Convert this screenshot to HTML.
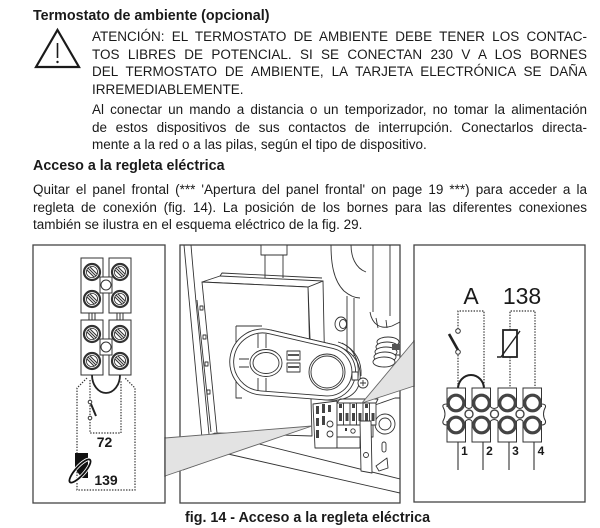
<!DOCTYPE html>
<html><head><meta charset="utf-8">
<style>
html,body{margin:0;padding:0;background:#fff;}
body{width:600px;height:528px;position:relative;overflow:hidden;font-family:"Liberation Sans",Arial,sans-serif;color:#1a1a1a;}
.l{position:absolute;white-space:nowrap;line-height:16px;font-size:13.5px;}
.j{position:absolute;left:92px;width:495px;line-height:16px;height:16px;font-size:13.5px;text-align:justify;text-align-last:justify;}
.jw{left:33px;width:554px;}
.b{font-weight:bold;font-size:14.3px;}
svg{position:absolute;left:0;top:0;}
</style></head><body>

<div class="l b" style="left:33px;top:8px;">Termostato de ambiente (opcional)</div>

<div class="j" style="top:29px;">ATENCIÓN: EL TERMOSTATO DE AMBIENTE DEBE TENER LOS CONTAC-</div>
<div class="j" style="top:46.5px;">TOS LIBRES DE POTENCIAL. SI SE CONECTAN 230 V A LOS BORNES</div>
<div class="j" style="top:64px;">DEL TERMOSTATO DE AMBIENTE, LA TARJETA ELECTRÓNICA SE DAÑA</div>
<div class="l" style="left:92px;top:81.5px;">IRREMEDIABLEMENTE.</div>

<div class="j" style="top:102px;">Al conectar un mando a distancia o un temporizador, no tomar la alimentación</div>
<div class="j" style="top:119.5px;">de estos dispositivos de sus contactos de interrupción. Conectarlos directa-</div>
<div class="l" style="left:92px;top:137px;">mente a la red o a las pilas, según el tipo de dispositivo.</div>

<div class="l b" style="left:33px;top:158px;">Acceso a la regleta eléctrica</div>

<div class="j jw" style="top:182px;">Quitar el panel frontal (*** 'Apertura del panel frontal' on page 19 ***) para acceder a la</div>
<div class="j jw" style="top:199.5px;">regleta de conexión (fig. 14). La posición de los bornes para las diferentes conexiones</div>
<div class="l" style="left:33px;top:217px;">también se ilustra en el esquema eléctrico de la fig. 29.</div>

<div class="l b" style="left:185px;top:510px;">fig. 14 - Acceso a la regleta eléctrica</div>

<svg width="600" height="528" viewBox="0 0 600 528" xmlns="http://www.w3.org/2000/svg">
<defs>
  <clipPath id="mc"><rect x="180" y="245" width="220" height="258"/></clipPath>
  <g id="scr">
    <circle r="8" fill="#fff" stroke="#333" stroke-width="2.2"/>
    <circle r="5.6" fill="#fff" stroke="#333" stroke-width="0.8"/>
    <g stroke="#333" stroke-width="1.1" transform="rotate(90)">
      <line x1="3.75" y1="-3.75" x2="-3.75" y2="3.75"/>
      <line x1="4.9" y1="-1.9" x2="-1.9" y2="4.9"/>
      <line x1="1.9" y1="-4.9" x2="-4.9" y2="1.9"/>
    </g>
  </g>
  <g id="rc">
    <circle r="7.8" fill="#fff" stroke="#444" stroke-width="3.2"/>
  </g>
</defs>

<!-- warning triangle -->
<polygon points="57.5,30 79,67 36,67" fill="none" stroke="#1a1a1a" stroke-width="2.2" stroke-linejoin="miter"/>
<line x1="57.5" y1="43" x2="57.5" y2="58" stroke="#1a1a1a" stroke-width="1.6"/>
<circle cx="57.5" cy="62" r="1.2" fill="#1a1a1a"/>

<!-- frames -->
<g fill="none" stroke="#444" stroke-width="1.3">
  <rect x="33" y="245" width="132" height="258"/>
  <rect x="180" y="245" width="220" height="258"/>
  <rect x="414" y="245" width="171" height="257"/>
</g>

<!-- ===== LEFT PANEL ===== -->
<g stroke="#333" stroke-width="1" fill="#fff">
  <rect x="81" y="258" width="22" height="55"/>
  <rect x="109" y="258" width="22" height="55"/>
  <rect x="100" y="277" width="12" height="16"/>
  <circle cx="106" cy="285" r="5"/>
  <rect x="89" y="313" width="6" height="7"/>
  <rect x="117" y="313" width="6" height="7"/>
  <line x1="92" y1="313" x2="92" y2="320"/>
  <line x1="120" y1="313" x2="120" y2="320"/>
  <rect x="81" y="320" width="22" height="55"/>
  <rect x="109" y="320" width="22" height="55"/>
  <rect x="100" y="339" width="12" height="16"/>
  <circle cx="106" cy="347" r="5"/>
</g>
<use href="#scr" x="92" y="272"/>
<use href="#scr" x="120" y="272"/>
<use href="#scr" x="92" y="299"/>
<use href="#scr" x="120" y="299"/>
<use href="#scr" x="92" y="334"/>
<use href="#scr" x="120" y="334"/>
<use href="#scr" x="92" y="361"/>
<use href="#scr" x="120" y="361"/>

<path d="M92,375 A14,18 0 0 0 120,375" fill="none" stroke="#222" stroke-width="1.8"/>
<g fill="none" stroke="#333" stroke-width="1.2" stroke-dasharray="1.4,1.4">
  <path d="M87,378 L77,388 L77,490 L135,490 L135,388 L125,378"/>
  <path d="M90,380 L90,433 L121,433 L121,380"/>
</g>
<circle cx="90" cy="402" r="1.8" fill="#fff" stroke="#333" stroke-width="1"/>
<circle cx="90" cy="418" r="1.8" fill="#fff" stroke="#333" stroke-width="1"/>
<line x1="91" y1="404" x2="96" y2="416" stroke="#222" stroke-width="2"/>
<text x="104.5" y="447" font-family="Liberation Sans, Arial, sans-serif" font-weight="bold" font-size="14" text-anchor="middle" fill="#1a1a1a">72</text>
<polygon points="75,453 88,453 88,478 82,478 75,469" fill="#111"/>
<ellipse cx="80" cy="471" rx="15" ry="4.5" transform="rotate(-48 80 471)" fill="none" stroke="#fff" stroke-width="3.5"/>
<ellipse cx="80" cy="471" rx="15" ry="4.5" transform="rotate(-48 80 471)" fill="none" stroke="#111" stroke-width="1.8"/>
<text x="106" y="485" font-family="Liberation Sans, Arial, sans-serif" font-weight="bold" font-size="14" text-anchor="middle" fill="#1a1a1a">139</text>

<!-- ===== MIDDLE PANEL ===== -->
<g clip-path="url(#mc)" stroke="#333" stroke-width="0.9" fill="none" stroke-linejoin="round">
  <path d="M184,245 L202,438"/>
  <path d="M191,245 C193,270 195,290 196,302 L209,434"/>
  <path d="M197,300 L211,432"/>
  <g fill="#fff">
    <rect x="200" y="306" width="3" height="4"/>
    <rect x="203" y="335" width="3" height="4"/>
    <rect x="205" y="362" width="3" height="4"/>
    <rect x="207" y="390" width="3" height="4"/>
  </g>
  <path d="M202,438 L215,433 L400,479"/>
  <path d="M228,454 L400,493"/>
  <path d="M183,470 L228,454"/>

  <path d="M265,245 V278 M283,245 V278"/>
  <rect x="261" y="245" width="26" height="10" fill="#fff"/>
  <path d="M331,245 C331,262 333,280 344,291 C350,296 356,298 360,298"/>
  <path d="M347,296 V356 M354,298 V356"/>
  <path d="M351,245 C351,256 355,268 366,272"/>
  <path d="M373,245 V312 M390,245 V316"/>
  <path d="M370,312 C372,324 380,330 392,326 L400,322"/>
  <path d="M376,318 L378,328 M386,320 L387,328"/>
  <ellipse cx="341" cy="324" rx="6" ry="7" fill="#fff"/>
  <ellipse cx="343" cy="324" rx="3.5" ry="4.5" fill="#fff"/>
  <g fill="#fff">
    <ellipse cx="388" cy="342" rx="11" ry="5"/>
    <ellipse cx="387" cy="347" rx="11" ry="5"/>
    <ellipse cx="386" cy="352" rx="11" ry="5"/>
    <ellipse cx="385" cy="357" rx="11" ry="5"/>
    <ellipse cx="384" cy="362" rx="11" ry="5"/>
  </g>
  <path d="M395,345 L400,345 M396,355 L400,355" />
  <rect x="392" y="344" width="8" height="6" fill="#555" stroke="none"/>

  <polygon points="308,287 323,281 325,382 312,390" fill="#fff"/>
  <polygon points="202,282 220,276 323,281 308,287" fill="#fff"/>
  <polygon points="202,282 308,287 312,436 217,433" fill="#fff"/>
  <path d="M220,276 L222,273 L322,278"/>

  <path d="M236,326 H262 M236,326 V398 L242,398" fill="#fff"/>

  <path d="M270.5,329.9 L334.4,344.8 C350,350 362,360 360,380 C358,395 345,402 325.8,399.9 L300,397" fill="#fff"/>
  <path d="M270.5,329.9 L334.4,344.8 A28,28 0 0 1 325.8,399.9 L260.5,394.9 A33,33 0 1 1 270.5,329.9 Z" fill="#fff"/>
  <path d="M269.6,333.8 L333.4,348.6 A24,24 0 0 1 326.2,395.9 L260.8,390.9 A29,29 0 1 1 269.6,333.8 Z"/>
  <path d="M338,342 C352,346 360,358 358,378"/>
  <path d="M342,343 C356,350 362,362 361,376"/>
  <path d="M258,334 V348 M266,334 V348 M258,378 V391 M266,378 V391"/>
  <path d="M239,359 H249 M239,367 H249"/>
  <ellipse cx="266" cy="363" rx="16" ry="13.5" fill="#fff"/>
  <ellipse cx="266" cy="363" rx="13" ry="10.5"/>
  <rect x="287" y="351" width="13" height="9" fill="#fff"/>
  <rect x="287" y="363" width="13" height="9" fill="#fff"/>
  <path d="M288,355 H299 M288,367 H299" stroke="#555" stroke-width="2"/>
  <circle cx="327" cy="372" r="18" fill="#fff"/>
  <circle cx="327" cy="372" r="16"/>
  <circle cx="363" cy="383" r="5" fill="#fff"/>
  <path d="M360,383 H366 M363,380 V386"/>
  <rect x="352" y="372" width="6" height="8" fill="#fff"/>
  <circle cx="385" cy="424" r="10" fill="#fff"/>
  <circle cx="385" cy="424" r="6"/>
  <path d="M375,405 L395,398 L400,398"/>

  <polygon points="313,404 337,401 337,448 315,448" fill="#fff"/>
  <g fill="#444" stroke="none">
    <rect x="316" y="406" width="3" height="8"/>
    <rect x="322" y="404" width="3" height="9"/>
    <rect x="316" y="418" width="3" height="8"/>
    <rect x="322" y="416" width="3" height="9"/>
    <rect x="316" y="430" width="3" height="8"/>
    <rect x="328" y="405" width="3" height="7"/>
  </g>
  <circle cx="330" cy="424" r="3" fill="#fff"/>
  <circle cx="330" cy="434" r="3" fill="#fff"/>
  <rect x="337" y="403" width="39" height="22" fill="#fff"/>
  <path d="M343.5,403 V425 M350,403 V425 M356.5,403 V425 M363,403 V425 M369.5,403 V425"/>
  <g fill="#444" stroke="none">
    <rect x="339" y="413" width="3" height="8"/>
    <rect x="345.5" y="413" width="3" height="8"/>
    <rect x="352" y="413" width="3" height="8"/>
    <rect x="358.5" y="413" width="3" height="8"/>
    <rect x="365" y="413" width="3" height="8"/>
    <rect x="371.5" y="413" width="3" height="8"/>
    <rect x="339" y="404" width="3" height="4"/>
    <rect x="352" y="404" width="3" height="4"/>
    <rect x="365" y="404" width="3" height="4"/>
  </g>
  <path d="M337,403 L340,399 L378,399 L376,403"/>
  <rect x="337" y="425" width="36" height="12" fill="#fff"/>
  <g fill="#333" stroke="none">
    <rect x="345" y="428" width="2" height="3"/>
    <rect x="360" y="428" width="2" height="3"/>
    <rect x="366" y="428" width="2" height="3"/>
  </g>
  <circle cx="353" cy="431" r="2.2"/>
  <rect x="337" y="437" width="23" height="11" fill="#fff"/>
  <polygon points="360,421 371,421 372,473 361,471" fill="#fff"/>
  <circle cx="366" cy="455" r="2.5"/>
  <rect x="382" y="442" width="4" height="10" rx="2"/>
  <path d="M376,466 L387,458 L388,468 L379,471 Z" fill="#fff"/>
</g>

<!-- callout wedges -->
<polygon points="165,438 312,426 165,476" fill="#e3e3e3" stroke="none"/>
<path d="M165,438 L312,426 L165,476" fill="none" stroke="#666" stroke-width="0.9"/>
<polygon points="414,341 362,403 414,386" fill="#e3e3e3" stroke="none"/>
<path d="M414,341 L362,403 L414,386" fill="none" stroke="#666" stroke-width="0.9"/>
<line x1="165" y1="437" x2="165" y2="477" stroke="#444" stroke-width="1.3"/>
<line x1="414" y1="340" x2="414" y2="387" stroke="#444" stroke-width="1.3"/>

<!-- ===== RIGHT PANEL ===== -->
<text x="471" y="304" font-family="Liberation Sans, Arial, sans-serif" font-size="23" text-anchor="middle" fill="#1a1a1a">A</text>
<text x="522" y="304" font-family="Liberation Sans, Arial, sans-serif" font-size="23" text-anchor="middle" fill="#1a1a1a">138</text>
<g fill="none" stroke="#333" stroke-width="1.2" stroke-dasharray="1.4,1.4">
  <path d="M458,329 L458,311 L484,311 L484,389"/>
  <path d="M458,355 L458,389"/>
  <path d="M510,330 L510,311 L535,311 L535,389"/>
  <path d="M510,357 L510,389"/>
</g>
<circle cx="458" cy="331" r="2.3" fill="#fff" stroke="#333" stroke-width="1"/>
<line x1="449" y1="334" x2="458" y2="350" stroke="#222" stroke-width="2.6"/>
<circle cx="458" cy="352" r="2.3" fill="#fff" stroke="#333" stroke-width="1"/>
<path d="M458,389 A13,14 0 0 1 484,389" fill="none" stroke="#222" stroke-width="2"/>
<rect x="503" y="330" width="14" height="27" fill="#fff" stroke="#222" stroke-width="1.8"/>
<path d="M497,357 L501,357 L520,331" fill="none" stroke="#222" stroke-width="1.4"/>

<g stroke="#333" stroke-width="1" fill="#fff">
  <rect x="447" y="388" width="18.5" height="54"/>
  <rect x="472" y="388" width="18.5" height="54"/>
  <rect x="498" y="388" width="18.5" height="54"/>
  <rect x="523" y="388" width="18.5" height="54"/>
</g>
<rect x="444" y="407" width="101" height="14" fill="#fff"/>
<g fill="none" stroke="#333" stroke-width="1">
  <path d="M447,404 Q442,404 443,407 Q447,414 443,421 Q442,425 447,425"/>
  <path d="M541.5,404 Q546,404 545.5,407 Q541.5,414 545.5,421 Q546,425 541.5,425"/>
  <path d="M465.5,407 Q469,410 472,407 M465.5,421 Q469,418 472,421"/>
  <path d="M490.5,407 Q494,410 498,407 M490.5,421 Q494,418 498,421"/>
  <path d="M516.5,407 Q520,410 523,407 M516.5,421 Q520,418 523,421"/>
</g>
<use href="#rc" x="456" y="403"/>
<use href="#rc" x="481.5" y="403"/>
<use href="#rc" x="507.5" y="403"/>
<use href="#rc" x="532.5" y="403"/>
<use href="#rc" x="456" y="425"/>
<use href="#rc" x="481.5" y="425"/>
<use href="#rc" x="507.5" y="425"/>
<use href="#rc" x="532.5" y="425"/>
<g fill="#fff" stroke="#444" stroke-width="1.4">
  <circle cx="469" cy="414" r="4"/>
  <circle cx="494.5" cy="414" r="4"/>
  <circle cx="520" cy="414" r="4"/>
</g>
<g stroke="#333" stroke-width="1.1">
  <line x1="458" y1="442" x2="458" y2="470"/>
  <line x1="483" y1="442" x2="483" y2="470"/>
  <line x1="509" y1="442" x2="509" y2="470"/>
  <line x1="534" y1="442" x2="534" y2="470"/>
</g>
<g font-family="Liberation Sans, Arial, sans-serif" font-weight="bold" font-size="12" text-anchor="middle" fill="#1a1a1a">
  <text x="464.5" y="455">1</text>
  <text x="489.5" y="455">2</text>
  <text x="515.5" y="455">3</text>
  <text x="541" y="455">4</text>
</g>
</svg>
</body></html>
